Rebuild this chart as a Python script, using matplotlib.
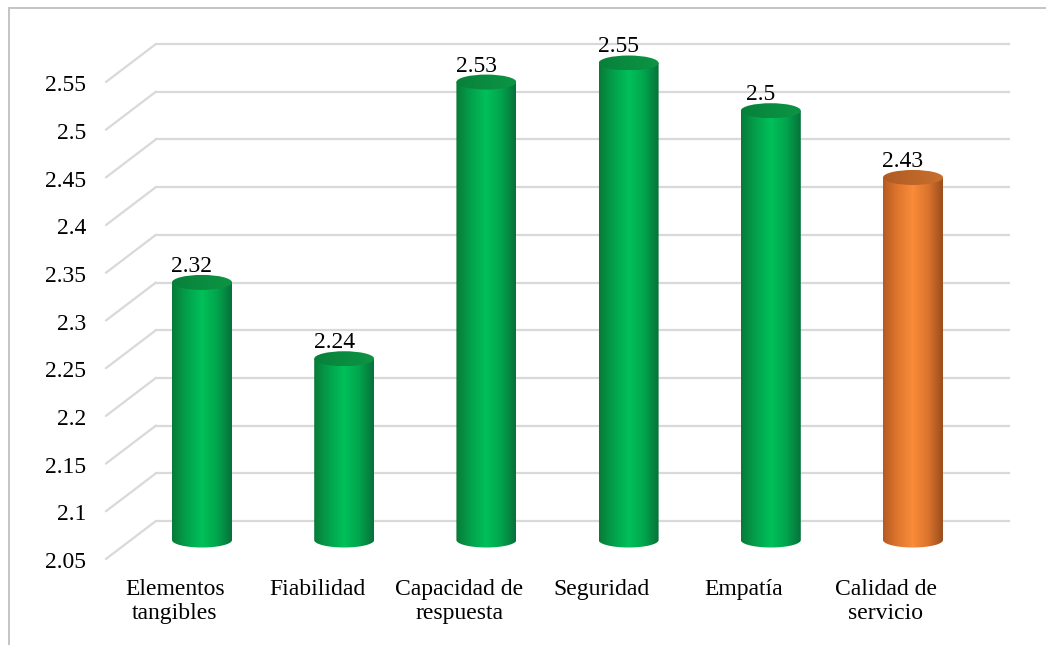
import numpy as np
import matplotlib
matplotlib.use("Agg")
import matplotlib.pyplot as plt
from matplotlib import transforms
from matplotlib.colors import LinearSegmentedColormap
from matplotlib.patches import Ellipse, PathPatch, ConnectionPatch
from matplotlib.path import Path
from matplotlib.lines import Line2D

categories = ["Elementos\ntangibles", "Fiabilidad", "Capacidad de\nrespuesta",
              "Seguridad", "Empatía", "Calidad de\nservicio"]
values = [2.32, 2.24, 2.53, 2.55, 2.5, 2.43]
bar_kind = ["green", "green", "green", "green", "green", "orange"]
y_ticks = [2.05, 2.1, 2.15, 2.2, 2.25, 2.3, 2.35, 2.4, 2.45, 2.5, 2.55]
y_tick_labels = ["2.05", "2.1", "2.15", "2.2", "2.25", "2.3", "2.35", "2.4", "2.45", "2.5", "2.55"]

# colour stops across the cylinder body, left to right
body_stops = {
    "green": ["#087a38", "#03a24c", "#00c05a", "#02a54d", "#07713a"],
    "orange": ["#b65a22", "#e0772f", "#fa8c3a", "#dc742d", "#9a4d1d"],
}
top_stops = {"green": ["#07803a", "#0a8c40", "#0c9444"], "orange": ["#b15a24", "#bd6629", "#c86f2d"]}

plt.rcParams["font.family"] = ["Liberation Serif", "DejaVu Serif"]

W, H, DPI = 1046, 645, 100
fig = plt.figure(figsize=(W / DPI, H / DPI), dpi=DPI)
ax = fig.add_axes([0, 0, 1, 1])

base = y_ticks[0]
# axis limits chosen so one category = 142.2 px and one unit of value = 954 px
ax.set_xlim(-202 / 142.2, (W - 202) / 142.2)
ax.set_ylim(base - (H - 540) / 954, base + 540 / 954)
ax.axis("off")

# depth planes: back wall and front edge of the floor
back_tr = transforms.offset_copy(ax.transData, fig=fig, x=0.25, y=0.19, units="inches")
front_tr = transforms.offset_copy(ax.transData, fig=fig, x=-0.25, y=-0.19, units="inches")

grid_c = "#d9d9d9"
x_left, x_right = -0.5, len(values) - 0.5
for v in y_ticks:
    ax.plot([x_left, x_right], [v, v], color=grid_c, lw=1.6, transform=back_tr, zorder=1)
    con = ConnectionPatch(xyA=(x_left, v), coordsA=front_tr, xyB=(x_left, v), coordsB=back_tr,
                          color=grid_c, lw=1.6, zorder=1)
    ax.add_artist(con)

for v, lab in zip(y_ticks, y_tick_labels):
    ax.annotate(lab, (x_left, v), xycoords=front_tr, xytext=(-14.4, -0.8),
                textcoords="offset points", ha="right", va="center_baseline", fontsize=17)

# cylinder geometry in data units
bw = 60 / 142.2
eh = 7.5 / 954

for i, (v, kind) in enumerate(zip(values, bar_kind)):
    x0, x1 = i - bw / 2, i + bw / 2
    t = np.linspace(np.pi, 2 * np.pi, 40)
    arc = np.column_stack([i + bw / 2 * np.cos(t), base + eh * np.sin(t)])
    verts = np.vstack([[x0, v], [x0, base], arc, [x1, v], [x0, v]])
    codes = [Path.MOVETO] + [Path.LINETO] * (len(verts) - 2) + [Path.CLOSEPOLY]
    body = PathPatch(Path(verts, codes), facecolor="none", edgecolor="none", transform=ax.transData)
    ax.add_patch(body)

    grad = np.linspace(0, 1, 256).reshape(1, -1)
    cmap = LinearSegmentedColormap.from_list(kind, body_stops[kind])
    im = ax.imshow(grad, cmap=cmap, extent=[x0, x1, base - eh, v], aspect="auto",
                   interpolation="bilinear", zorder=3)
    im.set_clip_path(body)

    # lid of the cylinder
    lid = Ellipse((i, v), bw, 2 * eh, facecolor="none", edgecolor="none", zorder=4)
    ax.add_patch(lid)
    tcmap = LinearSegmentedColormap.from_list(kind + "_top", top_stops[kind])
    tim = ax.imshow(grad, cmap=tcmap, extent=[x0, x1, v - eh, v + eh], aspect="auto",
                    interpolation="bilinear", zorder=4)
    tim.set_clip_path(lid)

    ax.annotate(f"{v:g}", (i, v), xytext=(-7.2, 4), textcoords="offset points",
                ha="center", va="bottom", fontsize=17, zorder=5)

for i, cat in enumerate(categories):
    ax.annotate(cat, (i, base), xycoords=front_tr, xytext=(-1.5, -14.5), textcoords="offset points",
                ha="center", va="top", fontsize=17, linespacing=1.15)

# outer chart border (runs off the right and bottom edges)
bx, by = 8.5 / W, 1 - 7.5 / H
fig.add_artist(Line2D([bx, 1], [by, by], transform=fig.transFigure, color="#c4c4c4", lw=1.4))
fig.add_artist(Line2D([bx, bx], [0, by], transform=fig.transFigure, color="#c4c4c4", lw=1.4))

ax.set_xlim(-202 / 142.2, (W - 202) / 142.2)
ax.set_ylim(base - (H - 540) / 954, base + 540 / 954)

fig.savefig("out.png", dpi=DPI)
